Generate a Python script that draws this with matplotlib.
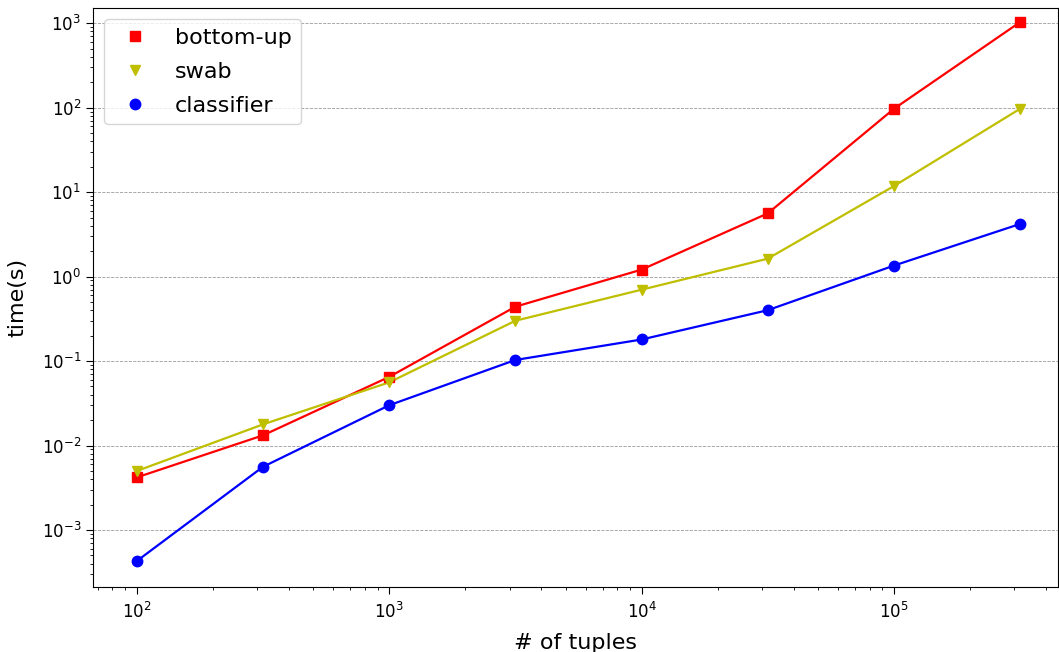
import matplotlib
matplotlib.use("Agg")
import matplotlib.pyplot as plt

# number of tuples
tuples = [1e2, 3.16e2, 1e3, 3.16e3, 1e4, 3.16e4, 1e5, 3.16e5]

# runtimes in seconds
bottom_up = [4.2e-3, 0.0132, 0.065, 0.44, 1.21, 5.6, 97, 1030]
swab = [5.0e-3, 0.0178, 0.056, 0.30, 0.70, 1.63, 11.8, 97]
classifier = [4.3e-4, 5.6e-3, 0.030, 0.103, 0.18, 0.40, 1.35, 4.2]

fig = plt.figure(figsize=(10.59, 6.52), dpi=100)
ax = fig.add_axes([93 / 1059, 1 - 587 / 652, 965 / 1059, 579 / 652])

# lines
ax.plot(tuples, bottom_up, 'r-', linewidth=1.6)
ax.plot(tuples, swab, 'y-', linewidth=1.6)
ax.plot(tuples, classifier, 'b-', linewidth=1.6)

# markers (legend shows markers only)
ax.plot(tuples, bottom_up, 'rs', markersize=7.5, label='bottom-up')
ax.plot(tuples, swab, 'yv', markersize=7.5, label='swab')
ax.plot(tuples, classifier, 'bo', markersize=7.5, label='classifier')

ax.set_xscale('log')
ax.set_yscale('log')
ax.set_xlim(10 ** 1.826, 10 ** 5.65)
ax.set_ylim(10 ** -3.675, 10 ** 3.18)

ax.yaxis.grid(True, which='major', linestyle='--', color='gray', linewidth=0.6, alpha=0.8)
ax.tick_params(which='major', labelsize=12, length=5)
ax.tick_params(which='minor', length=2.5)
ax.tick_params(axis='x', which='major', pad=6)

ax.set_xlabel('# of tuples', fontsize=16, labelpad=8)
ax.set_ylabel('time(s)', fontsize=16, labelpad=10)
ax.legend(loc='upper left', fontsize=16, labelspacing=0.62)

fig.savefig('out.png', dpi=100)
